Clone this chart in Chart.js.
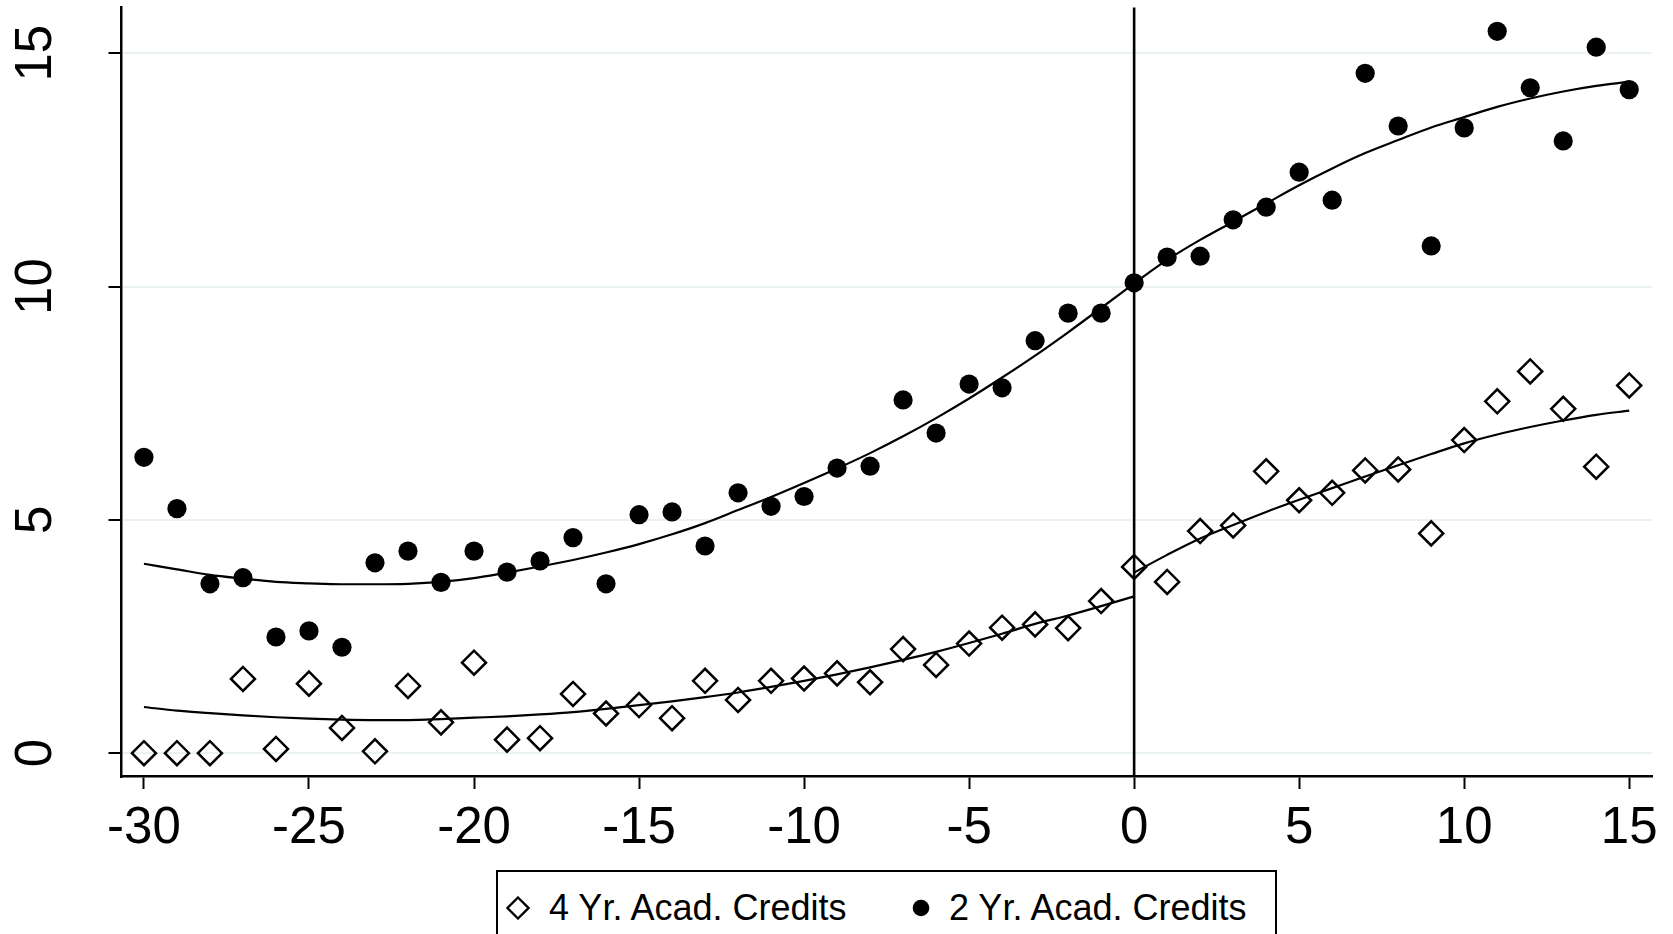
<!DOCTYPE html>
<html>
<head>
<meta charset="utf-8">
<title>Academic credits by bin</title>
<script src="https://cdn.jsdelivr.net/npm/chart.js@4/dist/chart.umd.min.js"></script>
<style>
  html, body { margin: 0; padding: 0; background: #fff; overflow: hidden; width: 1673px; height: 934px; }
  #wrap { position: relative; width: 1673px; height: 934px; }
  canvas { display: block; }
  .key {
    position: absolute; left: 496px; top: 870px; width: 781px; height: 90px;
    border: 2px solid #000; box-sizing: border-box; background: #fff;
    font-family: "Liberation Sans", Arial, sans-serif; font-size: 36px; color: #000;
  }
  .key .item { position: absolute; top: 5px; height: 62px; display: flex; align-items: center; white-space: nowrap; }
  .key svg { display: block; }
</style>
</head>
<body>
<div id="wrap">
  <canvas id="chart" width="1673" height="934"></canvas>
  <div class="key">
    <div class="item" style="left:8px">
      <svg width="24" height="24" viewBox="0 0 24 24"><polygon points="12,1.5 22.5,12 12,22.5 1.5,12" fill="none" stroke="#000" stroke-width="2.3"/></svg>
      <span style="margin-left:19px">4 Yr. Acad. Credits</span>
    </div>
    <div class="item" style="left:413px">
      <svg width="20" height="20" viewBox="0 0 20 20"><circle cx="10" cy="10" r="8.3" fill="#000"/></svg>
      <span style="margin-left:18px">2 Yr. Acad. Credits</span>
    </div>
  </div>
</div>
<script>
// Bins relative to the cutoff
const bins = [-30, -29, -28, -27, -26, -25, -24, -23, -22, -21, -20, -19, -18, -17, -16,
              -15, -14, -13, -12, -11, -10, -9, -8, -7, -6, -5, -4, -3, -2, -1,
              0, 1, 2, 3, 4, 5, 6, 7, 8, 9, 10, 11, 12, 13, 14, 15];
const cutoff = 0;

// Bin means
const credits4yr = [0.00, 0.00, 0.00, 1.59, 0.09, 1.49, 0.54, 0.04, 1.44, 0.66, 1.94, 0.29, 0.32, 1.27, 0.85,
                    1.03, 0.75, 1.55, 1.14, 1.55, 1.60, 1.71, 1.52, 2.23, 1.89, 2.35, 2.69, 2.76, 2.68, 3.26,
                    3.99, 3.67, 4.76, 4.88, 6.04, 5.42, 5.58, 6.06, 6.08, 4.71, 6.71, 7.54, 8.18, 7.38, 6.14, 7.88];
const credits2yr = [6.34, 5.24, 3.63, 3.76, 2.49, 2.62, 2.27, 4.08, 4.33, 3.66, 4.33, 3.88, 4.12, 4.62, 3.63,
                    5.11, 5.17, 4.44, 5.58, 5.29, 5.50, 6.11, 6.15, 7.57, 6.86, 7.91, 7.83, 8.84, 9.43, 9.43,
                    10.08, 10.63, 10.65, 11.43, 11.70, 12.45, 11.85, 14.57, 13.44, 10.87, 13.40, 15.47, 14.26, 13.12, 15.13, 14.22];

// Fitted curves, estimated separately on each side of the cutoff
const leftBins = bins.filter(b => b <= cutoff);
const rightBins = bins.filter(b => b >= cutoff);
const fit4yrLeft = [0.99, 0.91, 0.86, 0.81, 0.77, 0.74, 0.72, 0.71, 0.71, 0.73, 0.76, 0.79, 0.83, 0.88, 0.95,
                    1.03, 1.11, 1.20, 1.30, 1.42, 1.55, 1.69, 1.84, 2.00, 2.17, 2.36, 2.56, 2.77, 2.95, 3.15, 3.36];
const fit4yrRight = [3.87, 4.25, 4.60, 4.89, 5.17, 5.43, 5.68, 5.93, 6.17, 6.41, 6.64, 6.83, 6.99, 7.13, 7.25, 7.34];
const fit2yrLeft = [4.06, 3.94, 3.82, 3.74, 3.67, 3.64, 3.62, 3.62, 3.63, 3.67, 3.75, 3.87, 4.00, 4.14, 4.30,
                    4.48, 4.69, 4.93, 5.21, 5.49, 5.79, 6.10, 6.43, 6.79, 7.18, 7.60, 8.05, 8.52, 9.02, 9.54, 10.07];
const fit2yrRight = [10.07, 10.57, 11.00, 11.39, 11.78, 12.17, 12.53, 12.86, 13.14, 13.41, 13.63, 13.85, 14.03, 14.18, 14.30, 14.39];

// Axis ticks
const xTicks = [-30, -25, -20, -15, -10, -5, 0, 5, 10, 15];
const xTickText = ['-30', '-25', '-20', '-15', '-10', '-5', '0', '5', '10', '15'];
const yTicks = [0, 5, 10, 15];
const yTickText = ['0', '5', '10', '15'];

const FONT = '"Liberation Sans", Arial, sans-serif';
const pairs = (xs, ys) => xs.map((x, i) => ({ x: x, y: ys[i] }));

const fitStyle = {
  type: 'line', showLine: true, borderColor: '#000', borderWidth: 2.2,
  pointRadius: 0, fill: false, cubicInterpolationMode: 'monotone'
};

// Vertical reference line at the cutoff
const cutoffLine = {
  id: 'cutoffLine',
  beforeDatasetsDraw(chart) {
    const { ctx, chartArea: a, scales: { x } } = chart;
    const px = x.getPixelForValue(cutoff);
    ctx.save();
    ctx.strokeStyle = '#000';
    ctx.lineWidth = 2.6;
    ctx.beginPath();
    ctx.moveTo(px, a.top);
    ctx.lineTo(px, a.bottom);
    ctx.stroke();
    ctx.restore();
  }
};

// Rotated labels on the vertical axis
const rotatedYLabels = {
  id: 'rotatedYLabels',
  afterDraw(chart) {
    const { ctx, scales: { y } } = chart;
    const cx = y.right - 85;
    ctx.save();
    ctx.font = '51px ' + FONT;
    ctx.fillStyle = '#000';
    ctx.textAlign = 'center';
    ctx.textBaseline = 'middle';
    yTicks.forEach((v, i) => {
      const py = y.getPixelForValue(v);
      ctx.save();
      ctx.translate(cx, py);
      ctx.rotate(-Math.PI / 2);
      ctx.fillText(yTickText[i], 0, 0);
      ctx.restore();
    });
    ctx.restore();
  }
};

new Chart(document.getElementById('chart'), {
  type: 'scatter',
  data: {
    datasets: [
      { label: '4 Yr. Acad. Credits', data: pairs(bins, credits4yr), pointStyle: 'rectRot',
        pointRadius: 12, borderColor: '#000', backgroundColor: 'rgba(0,0,0,0)', borderWidth: 2.5 },
      { label: '2 Yr. Acad. Credits', data: pairs(bins, credits2yr), pointStyle: 'circle',
        pointRadius: 9.6, borderColor: '#000', backgroundColor: '#000', borderWidth: 0 },
      Object.assign({ label: 'fit4L', data: pairs(leftBins, fit4yrLeft) }, fitStyle),
      Object.assign({ label: 'fit4R', data: pairs(rightBins, fit4yrRight) }, fitStyle),
      Object.assign({ label: 'fit2L', data: pairs(leftBins, fit2yrLeft) }, fitStyle),
      Object.assign({ label: 'fit2R', data: pairs(rightBins, fit2yrRight) }, fitStyle)
    ]
  },
  options: {
    responsive: false,
    animation: false,
    devicePixelRatio: 1,
    layout: { autoPadding: false, padding: { left: 0, right: 21, top: 7.5, bottom: 67.5 } },
    plugins: { legend: { display: false }, tooltip: { enabled: false } },
    scales: {
      x: {
        type: 'linear', min: -30.68, max: 15.69,
        afterBuildTicks: s => { s.ticks = xTicks.map(v => ({ value: v })); },
        afterFit: s => { s.height = 90; },
        grid: { drawOnChartArea: false, drawTicks: true, tickLength: 12.5, tickColor: '#000', tickWidth: 2 },
        border: { color: '#000', width: 2.5 },
        ticks: {
          font: { family: FONT, size: 51 }, color: '#000', padding: 9,
          maxRotation: 0, minRotation: 0, autoSkip: false,
          callback: v => { const i = xTicks.indexOf(v); return i >= 0 ? xTickText[i] : ''; }
        }
      },
      y: {
        type: 'linear', min: -0.5, max: 15.98,
        afterBuildTicks: s => { s.ticks = yTicks.map(v => ({ value: v })); },
        afterFit: s => { s.width = 121.5; },
        grid: { color: '#eaf2f3', lineWidth: 2, drawTicks: true, tickLength: 13, tickColor: '#000', tickWidth: 2 },
        border: { color: '#000', width: 2.5 },
        ticks: { display: false }
      }
    }
  },
  plugins: [cutoffLine, rotatedYLabels]
});
</script>
</body>
</html>
